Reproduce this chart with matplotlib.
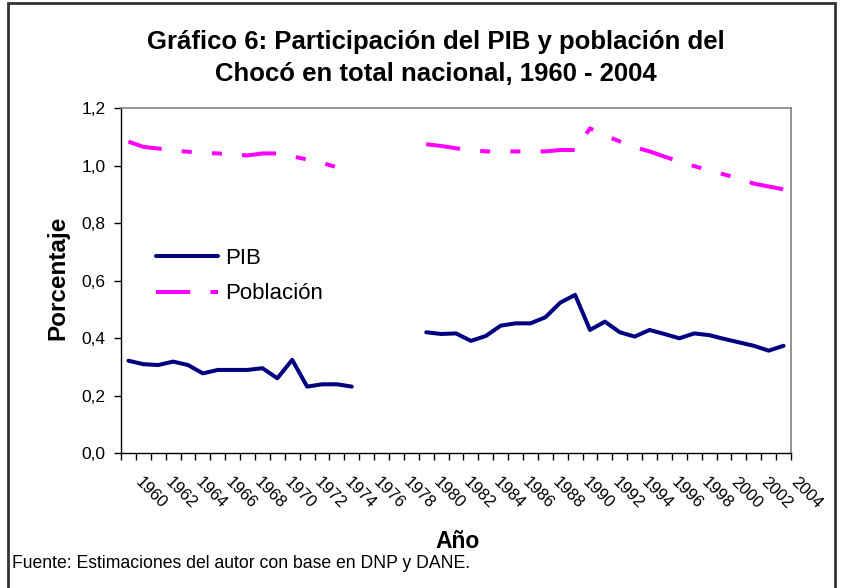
import numpy as np
import matplotlib
matplotlib.use("Agg")
import matplotlib.pyplot as plt
from matplotlib.patches import Rectangle
from matplotlib.transforms import ScaledTranslation

plt.rcParams['font.family'] = ['Liberation Sans', 'DejaVu Sans']

# ---------------- data ----------------
years = list(range(1960, 2005))
nan = np.nan
pib = [0.322, 0.310, 0.307, 0.319, 0.307, 0.278, 0.290, 0.290, 0.290, 0.296,
       0.261, 0.325, 0.232, 0.240, 0.240, 0.232,
       nan, nan, nan, nan,
       0.421, 0.415, 0.417, 0.391, 0.408, 0.444, 0.452, 0.452, 0.473, 0.524,
       0.551, 0.429, 0.458, 0.421, 0.406, 0.429, 0.415, 0.400, 0.417, 0.411,
       0.398, 0.386, 0.374, 0.357, 0.374]
poblacion = [1.084, 1.066, 1.060, 1.053, 1.049, 1.045, 1.043, 1.040, 1.036, 1.043,
             1.043, 1.033, 1.022, 1.010, 0.995, 0.985,
             nan, nan, nan, nan,
             1.075, 1.069, 1.061, 1.055, 1.050, 1.050, 1.050, 1.050, 1.050, 1.055,
             1.055, 1.130, 1.105, 1.085, 1.065, 1.050, 1.032, 1.015, 0.999, 0.984,
             0.970, 0.956, 0.938, 0.928, 0.918]
series_names = ["PIB", "Población"]
year_labels = [str(y) for y in years[::2]]
y_ticks = [0.0, 0.2, 0.4, 0.6, 0.8, 1.0, 1.2]
title_lines = ["Gráfico 6: Participación del PIB y población del",
               "Chocó en total nacional, 1960 - 2004"]
ylabel = "Porcentaje"
xlabel = "Año"
source = "Fuente: Estimaciones del autor con base en DNP y DANE."

# ---------------- figure ----------------
W, H = 843, 588
fig = plt.figure(figsize=(W / 100, H / 100), dpi=100)

def fx(px):
    return px / W

def fy(py):
    return 1 - py / H

L, R, T, B = 121, 791, 108.3, 453.3
ax = fig.add_axes([fx(L), fy(B), (R - L) / W, (B - T) / H])

x = np.arange(len(years))

def segments(vals):
    v = np.array(vals, dtype=float)
    ok = ~np.isnan(v)
    segs = []
    start = None
    for i, o in enumerate(ok):
        if o and start is None:
            start = i
        if (not o or i == len(v) - 1) and start is not None:
            end = i if o else i - 1
            segs.append((x[start:end + 1], v[start:end + 1]))
            start = None
    return segs

navy = '#000080'
magenta = '#FF00FF'
dash = (0, (8.5, 5, 2.5, 5, 2.5, 5))

for k, (xs, ys) in enumerate(segments(pib)):
    ax.plot(xs, ys, color=navy, lw=2.9, solid_capstyle='round',
            solid_joinstyle='round', label=series_names[0] if k == 0 else '_nolegend_')
for k, (xs, ys) in enumerate(segments(poblacion)):
    ax.plot(xs, ys, color=magenta, lw=2.9, linestyle=dash, dash_capstyle='butt',
            label=series_names[1] if k == 0 else '_nolegend_')

ax.set_xlim(-0.5, len(years) - 0.5)
ax.set_ylim(0, 1.2)

# y axis
ax.set_yticks(y_ticks)
ax.set_yticklabels([f"{v:.1f}".replace('.', ',') for v in y_ticks], fontsize=12.5)
ax.tick_params(axis='y', direction='out', length=5, width=1, pad=6, colors='black')

# x axis: boundary ticks (minor) and labels at every other category
ax.set_xticks(np.arange(-0.5, len(years), 1.0), minor=True)
ax.set_xticks(x[::2])
ax.set_xticklabels(year_labels, fontsize=12, rotation=-45, ha='left', va='top',
                   rotation_mode='anchor')
ax.tick_params(axis='x', which='major', length=0, pad=15)
ax.tick_params(axis='x', which='minor', direction='out', length=5, width=1, color='black')
off = ScaledTranslation(15 / 100, 0, fig.dpi_scale_trans)
for lab in ax.get_xticklabels():
    lab.set_transform(lab.get_transform() + off)

for s in ['left', 'bottom']:
    ax.spines[s].set_color('black')
    ax.spines[s].set_linewidth(1)
for s in ['top', 'right']:
    ax.spines[s].set_color('#808080')
    ax.spines[s].set_linewidth(1.2)

# legend
leg = ax.legend(loc='upper left', bbox_to_anchor=(fx(156), fy(248)),
                bbox_transform=fig.transFigure, frameon=False, fontsize=16,
                handlelength=2.8, handletextpad=0.3, labelspacing=0.65,
                borderpad=0, borderaxespad=0)

# texts
fig.text(fx(436), fy(42), title_lines[0], ha='center', va='center',
         fontsize=18.5, fontweight='bold')
fig.text(fx(436), fy(74), title_lines[1], ha='center', va='center',
         fontsize=18.5, fontweight='bold')
fig.text(fx(58), fy(278), ylabel, rotation=90, ha='center', va='center',
         fontsize=17.5, fontweight='bold')
fig.text(fx(458), fy(541), xlabel, ha='center', va='center',
         fontsize=16.5, fontweight='bold')
fig.text(fx(12), fy(563), source, ha='left', va='center', fontsize=12.7)

# outer frame
fig.patches.append(Rectangle((fx(8), fy(H + 20)), fx(835) - fx(8), fy(3) - fy(H + 20),
                             transform=fig.transFigure, fill=False,
                             edgecolor='#333333', linewidth=2))

fig.savefig('out.png', dpi=100)
